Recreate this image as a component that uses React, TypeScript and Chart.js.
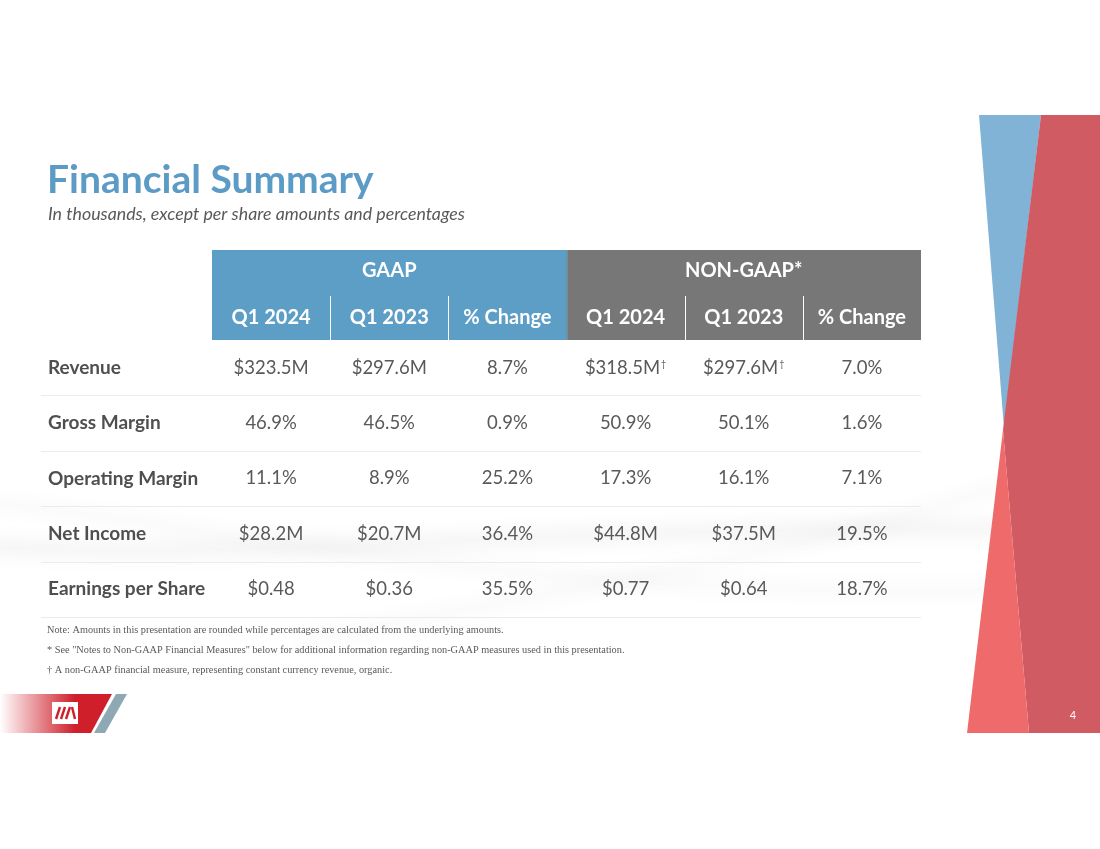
import React, { useEffect, useRef } from 'react';
import { Chart, registerables } from 'chart.js';

Chart.register(...registerables);

// ---------- data ----------
const TITLE = 'Financial Summary';
const SUBTITLE = 'In thousands, except per share amounts and percentages';
const GROUP_LABELS = ['GAAP', 'NON-GAAP*'];
const PERIOD_LABELS = ['Q1 2024', 'Q1 2023', '% Change'];
const COLUMN_KEYS = ['gaap2024', 'gaap2023', 'gaapChange', 'nonGaap2024', 'nonGaap2023', 'nonGaapChange'];
const ROW_LABELS = ['Revenue', 'Gross Margin', 'Operating Margin', 'Net Income', 'Earnings per Share'];
const GAAP_Q1_2024 = ['$323.5M', '46.9%', '11.1%', '$28.2M', '$0.48'];
const GAAP_Q1_2023 = ['$297.6M', '46.5%', '8.9%', '$20.7M', '$0.36'];
const GAAP_CHANGE = ['8.7%', '0.9%', '25.2%', '36.4%', '35.5%'];
const NON_GAAP_Q1_2024 = ['$318.5M†', '50.9%', '17.3%', '$44.8M', '$0.77'];
const NON_GAAP_Q1_2023 = ['$297.6M†', '50.1%', '16.1%', '$37.5M', '$0.64'];
const NON_GAAP_CHANGE = ['7.0%', '1.6%', '7.1%', '19.5%', '18.7%'];
const NOTES = [
  'Note: Amounts in this presentation are rounded while percentages are calculated from the underlying amounts.',
  '* See "Notes to Non-GAAP Financial Measures" below for additional information regarding non-GAAP measures used in this presentation.',
  '† A non-GAAP financial measure, representing constant currency revenue, organic.',
];
const PAGE_NUMBER = '4';

const COLUMNS = [GAAP_Q1_2024, GAAP_Q1_2023, GAAP_CHANGE, NON_GAAP_Q1_2024, NON_GAAP_Q1_2023, NON_GAAP_CHANGE];

// ---------- styles ----------
const FONT = 'Lato, "Open Sans", sans-serif';
const BLUE = '#5d9ec7';
const GRAY_HEAD = '#777777';
const TEXT = '#595959';
const LABEL = '#4f4f4f';
const SLIDE_TOP = 115;
const SLIDE_BOTTOM = 733;

function poly(ctx: CanvasRenderingContext2D, pts: number[][], fill: string | CanvasGradient) {
  ctx.beginPath();
  ctx.moveTo(pts[0][0], pts[0][1]);
  for (let i = 1; i < pts.length; i++) ctx.lineTo(pts[i][0], pts[i][1]);
  ctx.closePath();
  ctx.fillStyle = fill;
  ctx.fill();
}

const tablePlugin = {
  id: 'financialTable',
  beforeDraw(chart: any) {
    const ctx: CanvasRenderingContext2D = chart.ctx;
    const W = chart.width;
    ctx.save();
    ctx.fillStyle = '#ffffff';
    ctx.fillRect(0, 0, W, chart.height);

    // soft background swooshes
    ctx.save();
    ctx.beginPath();
    ctx.rect(0, SLIDE_TOP, W, SLIDE_BOTTOM - SLIDE_TOP);
    ctx.clip();
    ctx.filter = 'blur(8px)';
    ctx.strokeStyle = 'rgba(0,0,0,0.045)';
    ctx.lineWidth = 16;
    ctx.beginPath();
    ctx.moveTo(-40, 545);
    ctx.bezierCurveTo(250, 565, 600, 520, 1100, 530);
    ctx.stroke();
    ctx.strokeStyle = 'rgba(0,0,0,0.03)';
    ctx.lineWidth = 10;
    ctx.beginPath();
    ctx.moveTo(-40, 500);
    ctx.bezierCurveTo(200, 520, 500, 600, 1000, 590);
    ctx.stroke();
    ctx.strokeStyle = 'rgba(0,0,0,0.025)';
    ctx.lineWidth = 14;
    ctx.beginPath();
    ctx.moveTo(300, 640);
    ctx.bezierCurveTo(500, 600, 800, 560, 1050, 470);
    ctx.stroke();
    ctx.filter = 'none';
    ctx.restore();

    // right decoration
    poly(ctx, [[979, SLIDE_TOP], [1041, SLIDE_TOP], [1004, 428]], '#80b3d5');
    poly(ctx, [[1041, SLIDE_TOP], [W, SLIDE_TOP], [W, SLIDE_BOTTOM], [1029, SLIDE_BOTTOM], [1003, 430]], '#d15b63');
    poly(ctx, [[1003, 430], [1029, SLIDE_BOTTOM], [967, SLIDE_BOTTOM]], '#ef6b6b');

    // bottom-left logo band
    const g = ctx.createLinearGradient(0, 0, 75, 0);
    g.addColorStop(0, 'rgba(207,31,43,0)');
    g.addColorStop(1, 'rgba(207,31,43,1)');
    poly(ctx, [[0, 694], [112, 694], [91, SLIDE_BOTTOM], [0, SLIDE_BOTTOM]], g);
    poly(ctx, [[116, 694], [127, 694], [105, SLIDE_BOTTOM], [94, SLIDE_BOTTOM]], '#8ea8b4');
    ctx.fillStyle = '#ffffff';
    ctx.fillRect(52, 702, 26, 22);
    ctx.strokeStyle = '#cf1f2b';
    ctx.lineWidth = 2.4;
    for (let i = 0; i < 3; i++) {
      ctx.beginPath();
      ctx.moveTo(60 + i * 5, 707);
      ctx.lineTo(56 + i * 5, 719);
      ctx.stroke();
    }
    ctx.beginPath();
    ctx.moveTo(72, 707);
    ctx.lineTo(75, 719);
    ctx.stroke();

    ctx.fillStyle = '#ffffff';
    ctx.font = `11px ${FONT}`;
    ctx.textAlign = 'center';
    ctx.textBaseline = 'middle';
    ctx.fillText(PAGE_NUMBER, 1073, 715);
    ctx.restore();
  },
  afterDraw(chart: any) {
    const ctx: CanvasRenderingContext2D = chart.ctx;
    const xs = chart.scales.x;
    const ys = chart.scales.y;
    const area = chart.chartArea;
    const colPitch = xs.getPixelForValue(1) - xs.getPixelForValue(0);
    const rowPitch = ys.getPixelForValue(1) - ys.getPixelForValue(0);
    const colLeft = (i: number) => xs.getPixelForValue(i) - colPitch / 2;
    const colRight = (i: number) => xs.getPixelForValue(i) + colPitch / 2;
    const headTop = area.top - 90;
    const subTop = area.top - 44;

    ctx.save();
    // title
    ctx.textAlign = 'left';
    ctx.textBaseline = 'alphabetic';
    ctx.fillStyle = '#5b9bc5';
    ctx.font = `bold 39px ${FONT}`;
    ctx.fillText(TITLE, 47, 193);
    ctx.fillStyle = TEXT;
    ctx.font = `italic 17.8px ${FONT}`;
    ctx.fillText(SUBTITLE, 48, 220);

    // header groups
    for (let gi = 0; gi < 2; gi++) {
      const c0 = gi * 3;
      const c2 = gi * 3 + 2;
      const x0 = colLeft(c0);
      const x1 = colRight(c2);
      ctx.fillStyle = gi === 0 ? BLUE : GRAY_HEAD;
      ctx.fillRect(x0, headTop, x1 - x0, area.top - headTop);
      ctx.fillStyle = '#ffffff';
      ctx.font = `bold 20px ${FONT}`;
      ctx.textAlign = 'center';
      ctx.textBaseline = 'middle';
      ctx.fillText(GROUP_LABELS[gi], (x0 + x1) / 2, headTop + 21);
      for (let k = 0; k < 3; k++) {
        ctx.fillText(PERIOD_LABELS[k], xs.getPixelForValue(c0 + k), area.top - 22);
      }
      ctx.strokeStyle = '#ffffff';
      ctx.lineWidth = 1;
      for (let k = 1; k < 3; k++) {
        const bx = Math.round(colLeft(c0 + k)) + 0.5;
        ctx.beginPath();
        ctx.moveTo(bx, subTop);
        ctx.lineTo(bx, area.top);
        ctx.stroke();
      }
    }
    ctx.fillStyle = '#6f8fa3';
    ctx.fillRect(Math.round(colRight(2)) - 1, headTop, 2, area.top - headTop);

    // rows
    for (let r = 0; r < ROW_LABELS.length; r++) {
      const cy = ys.getPixelForValue(r);
      ctx.textBaseline = 'middle';
      ctx.textAlign = 'left';
      ctx.fillStyle = LABEL;
      ctx.font = `bold 19px ${FONT}`;
      ctx.fillText(ROW_LABELS[r], 48, cy);
      for (let c = 0; c < COLUMNS.length; c++) {
        const cx = xs.getPixelForValue(c);
        let v = COLUMNS[c][r];
        const dagger = v.endsWith('†');
        if (dagger) v = v.slice(0, -1);
        ctx.font = `18.5px ${FONT}`;
        const w1 = ctx.measureText(v).width;
        let w2 = 0;
        if (dagger) {
          ctx.font = `9px ${FONT}`;
          w2 = ctx.measureText('†').width + 1;
        }
        const start = cx - (w1 + w2) / 2;
        ctx.fillStyle = TEXT;
        ctx.textAlign = 'left';
        ctx.font = `18.5px ${FONT}`;
        ctx.fillText(v, start, cy);
        if (dagger) {
          ctx.font = `9px ${FONT}`;
          ctx.fillText('†', start + w1 + 1, cy - 4);
        }
      }
      const ly = Math.round(cy + rowPitch / 2) + 0.5;
      ctx.strokeStyle = '#ebebeb';
      ctx.lineWidth = 1;
      ctx.beginPath();
      ctx.moveTo(41, ly);
      ctx.lineTo(area.right, ly);
      ctx.stroke();
    }

    // notes
    ctx.textAlign = 'left';
    ctx.textBaseline = 'middle';
    ctx.fillStyle = TEXT;
    ctx.font = `10.3px "Liberation Serif", "Times New Roman", serif`;
    NOTES.forEach((n, i) => ctx.fillText(n, 47, area.bottom + 13 + i * 20));
    ctx.restore();
  },
};

export default function App() {
  const ref = useRef<HTMLCanvasElement | null>(null);
  useEffect(() => {
    document.body.style.margin = '0';
    const canvas = ref.current;
    if (!canvas) return;
    const chart = new Chart(canvas, {
      type: 'bar',
      data: { labels: COLUMN_KEYS, datasets: [] },
      options: {
        animation: false,
        responsive: false,
        devicePixelRatio: 1,
        layout: { padding: { left: 212, right: 179, top: 340, bottom: 232 } },
        plugins: { legend: { display: false }, tooltip: { enabled: false } },
        scales: {
          x: { type: 'category', labels: COLUMN_KEYS, offset: true, display: false },
          y: { type: 'category', labels: ROW_LABELS, offset: true, display: false },
        },
      },
      plugins: [tablePlugin],
    } as any);
    return () => chart.destroy();
  }, []);
  return <canvas ref={ref} width={1100} height={849} style={{ display: 'block' }} />;
}
